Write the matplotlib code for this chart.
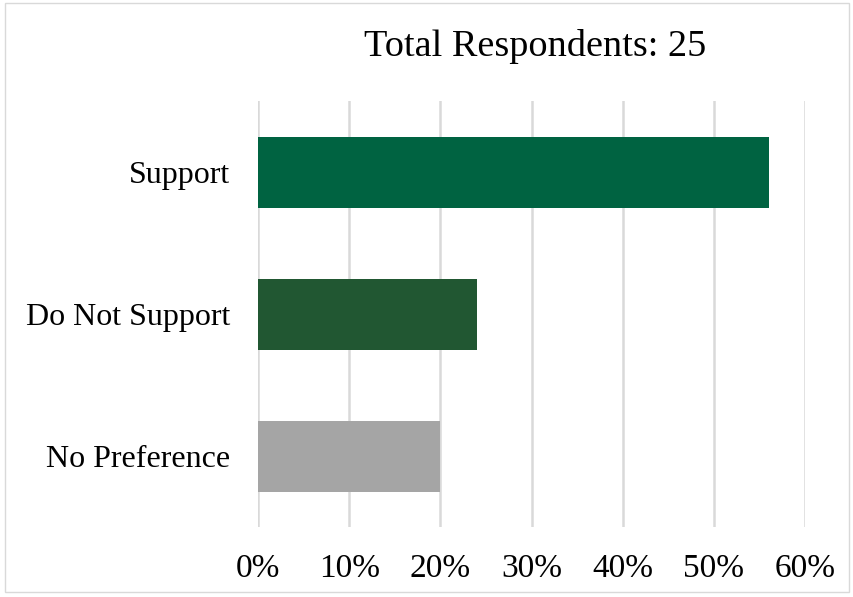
import matplotlib
matplotlib.use("Agg")
import matplotlib.pyplot as plt
from matplotlib.patches import Rectangle
from matplotlib.ticker import FuncFormatter

categories = ["Support", "Do Not Support", "No Preference"]
values = [0.56, 0.24, 0.20]
colors = ["#006341", "#215732", "#a5a5a5"]
xticks = [0, 0.1, 0.2, 0.3, 0.4, 0.5, 0.6]
title = "Total Respondents: 25"

plt.rcParams['font.family'] = ['Liberation Serif', 'DejaVu Serif']

fig = plt.figure(figsize=(8.54, 5.97), dpi=100)
ax = fig.add_axes([258/854, 1-527/597, (805-258)/854, (527-101)/597])

ypos = list(range(len(categories)))
ax.barh(ypos, values, height=0.5, color=colors, zorder=3)
ax.set_ylim(len(categories)-0.5, -0.5)
ax.set_xlim(0, 0.6)
ax.set_yticks(ypos)
ax.set_yticklabels(categories, fontsize=23)
ax.set_xticks(xticks)
ax.xaxis.set_major_formatter(FuncFormatter(lambda v, p: f"{v*100:.0f}%"))
ax.tick_params(axis='x', labelsize=24, length=0, pad=19)
ax.tick_params(axis='y', length=0, pad=20)
for s in ax.spines.values():
    s.set_visible(False)
ax.grid(axis='x', color='#d9d9d9', linewidth=1.8, zorder=0)
ax.set_axisbelow(True)

fig.text(535/854, 1-47/597, title, ha='center', va='center', fontsize=27.5)

fig.patches.append(Rectangle((5/854, 1-592/597), (849-5)/854, (592-3)/597,
                             transform=fig.transFigure, fill=False,
                             edgecolor='#d9d9d9', linewidth=1))

fig.savefig("out.png", dpi=100)
